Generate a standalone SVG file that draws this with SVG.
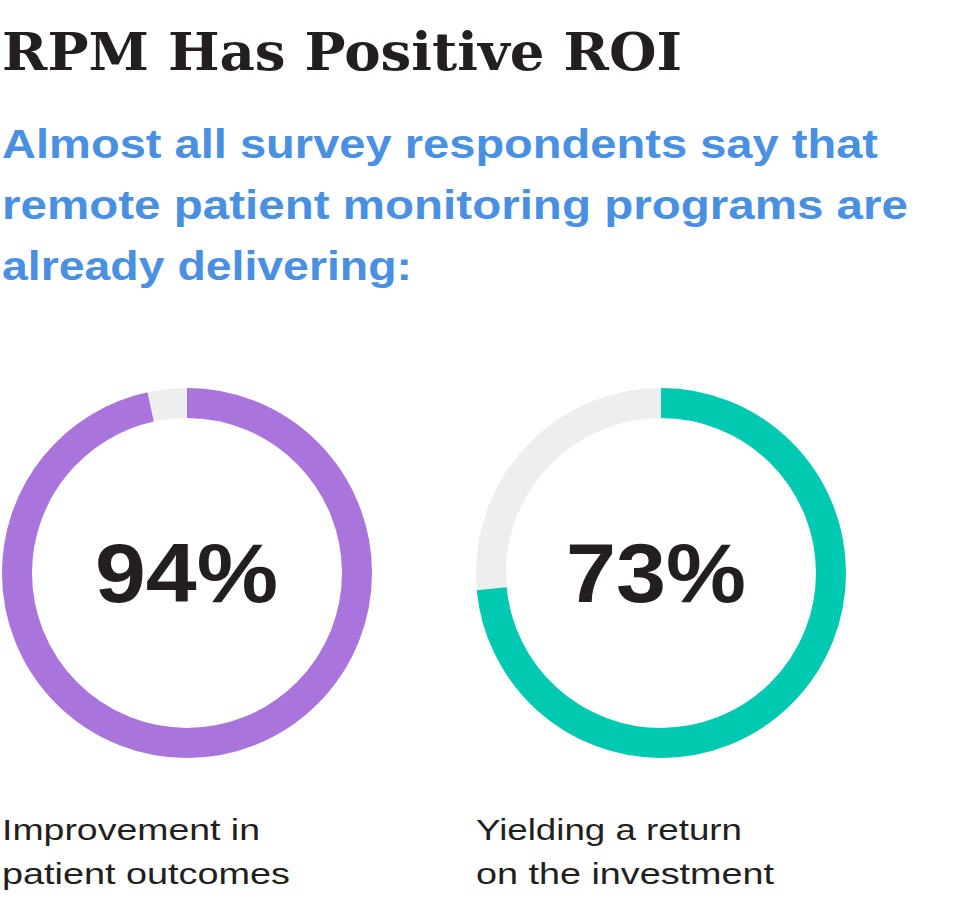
<svg xmlns="http://www.w3.org/2000/svg" width="972" height="903" viewBox="0 0 972 903">
<style>
.t{font-family:"DejaVu Serif","Liberation Serif",serif;font-weight:bold;font-size:52px;fill:#231f20}
.s{font-family:"Liberation Sans",Arial,sans-serif;font-weight:bold;font-size:41px;fill:#4a90e2}
.n{font-family:"Liberation Sans",Arial,sans-serif;font-weight:bold;font-size:84px;fill:#231f20}
.l{font-family:"Liberation Sans",Arial,sans-serif;font-size:30px;fill:#231f20}
.bg{fill:none;stroke:#eeeeee;stroke-width:30}
</style>
<rect width="972" height="903" fill="#fff"/>
<text class="t" x="2" y="70" textLength="680" lengthAdjust="spacingAndGlyphs">RPM Has Positive ROI</text>
<text class="s" x="2" y="158" textLength="876" lengthAdjust="spacingAndGlyphs">Almost all survey respondents say that</text>
<text class="s" x="2" y="219" textLength="906" lengthAdjust="spacingAndGlyphs">remote patient monitoring programs are</text>
<text class="s" x="2" y="280" textLength="410" lengthAdjust="spacingAndGlyphs">already delivering:</text>
<g id="donut1">
<circle class="bg" cx="187" cy="573" r="170"/>
<circle cx="187" cy="573" r="170" fill="none" stroke="#a974db" stroke-width="30" stroke-dasharray="1031 1068" transform="rotate(-90 187 573)"/>
<text class="n" x="95" y="602" textLength="183" lengthAdjust="spacingAndGlyphs">94%</text>
<text class="l" x="2" y="840" textLength="258" lengthAdjust="spacingAndGlyphs">Improvement in</text>
<text class="l" x="2" y="884" textLength="288" lengthAdjust="spacingAndGlyphs">patient outcomes</text>
</g>
<g id="donut2">
<circle class="bg" cx="661" cy="573" r="170"/>
<circle cx="661" cy="573" r="170" fill="none" stroke="#00c9b1" stroke-width="30" stroke-dasharray="785 1068" transform="rotate(-90 661 573)"/>
<text class="n" x="566" y="602" textLength="180" lengthAdjust="spacingAndGlyphs">73%</text>
<text class="l" x="476" y="840" textLength="266" lengthAdjust="spacingAndGlyphs">Yielding a return</text>
<text class="l" x="476" y="884" textLength="298" lengthAdjust="spacingAndGlyphs">on the investment</text>
</g>
</svg>
